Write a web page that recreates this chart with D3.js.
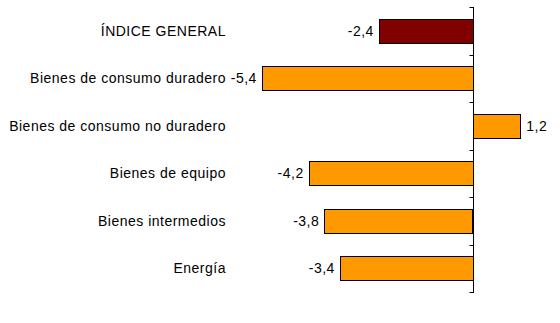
<!DOCTYPE html>
<html><head><meta charset="utf-8">
<script src="https://cdn.jsdelivr.net/npm/d3@7"></script>
<style>body{margin:0;background:#fff}svg{display:block}text{font-family:"Liberation Sans",Arial,sans-serif;fill:#000}</style>
</head><body><svg id="c" width="560" height="323"></svg>
<script>
const categories = ["ÍNDICE GENERAL","Bienes de consumo duradero","Bienes de consumo no duradero","Bienes de equipo","Bienes intermedios","Energía"];
const values = [-2.4,-5.4,1.2,-4.2,-3.8,-3.4];
const valueLabels = ["-2,4","-5,4","1,2","-4,2","-3,8","-3,4"];
const colors = ["#800000","#FF9900","#FF9900","#FF9900","#FF9900","#FF9900"];

const svg = d3.select("#c");
const x = d3.scaleLinear().domain([-6,2]).range([238.5,550.5]);
const y = d3.scaleBand().domain(categories).range([7,292]).paddingInner(0.5).paddingOuter(0.25);
const yt = d3.scaleBand().domain(categories).range([7,292]);

svg.selectAll("rect.bar").data(values).join("rect")
  .attr("x", d => Math.round(x(Math.min(0,d)))+0.5)
  .attr("y", (d,i) => Math.round(y(categories[i]))+0.5)
  .attr("width", d => Math.round(Math.abs(x(d)-x(0))))
  .attr("height", Math.round(y.bandwidth()))
  .attr("fill", (d,i) => colors[i])
  .attr("stroke", "#000").attr("stroke-width", 1);

// axis at zero
const ax = svg.append("g").attr("transform", `translate(${Math.round(x(0))+0.5},0)`);
ax.append("line").attr("y1",7).attr("y2",293).attr("stroke","#000");
const tickYs = categories.map(c => yt(c)).concat([yt.range()[1]]);
ax.selectAll("line.t").data(tickYs).join("line")
  .attr("x1",-4).attr("x2",0).attr("y1",d=>Math.round(d)+0.5).attr("y2",d=>Math.round(d)+0.5).attr("stroke","#000");

// category labels
svg.selectAll("text.cat").data(categories).join("text")
  .attr("x",226).attr("y", c => y(c)+y.bandwidth()/2)
  .attr("dy","0.35em").attr("text-anchor","end").attr("font-size",14)
  .attr("letter-spacing","0.5px").text(c=>c);

// value labels
svg.selectAll("text.val").data(values).join("text")
  .attr("x", d => d<0 ? x(d)-5 : x(d)+7)
  .attr("y", (d,i) => y(categories[i])+y.bandwidth()/2)
  .attr("dy","0.35em").attr("text-anchor", d => d<0 ? "end":"start")
  .attr("font-size",14).attr("letter-spacing","0.5px").text((d,i)=>valueLabels[i]);
</script></body></html>
